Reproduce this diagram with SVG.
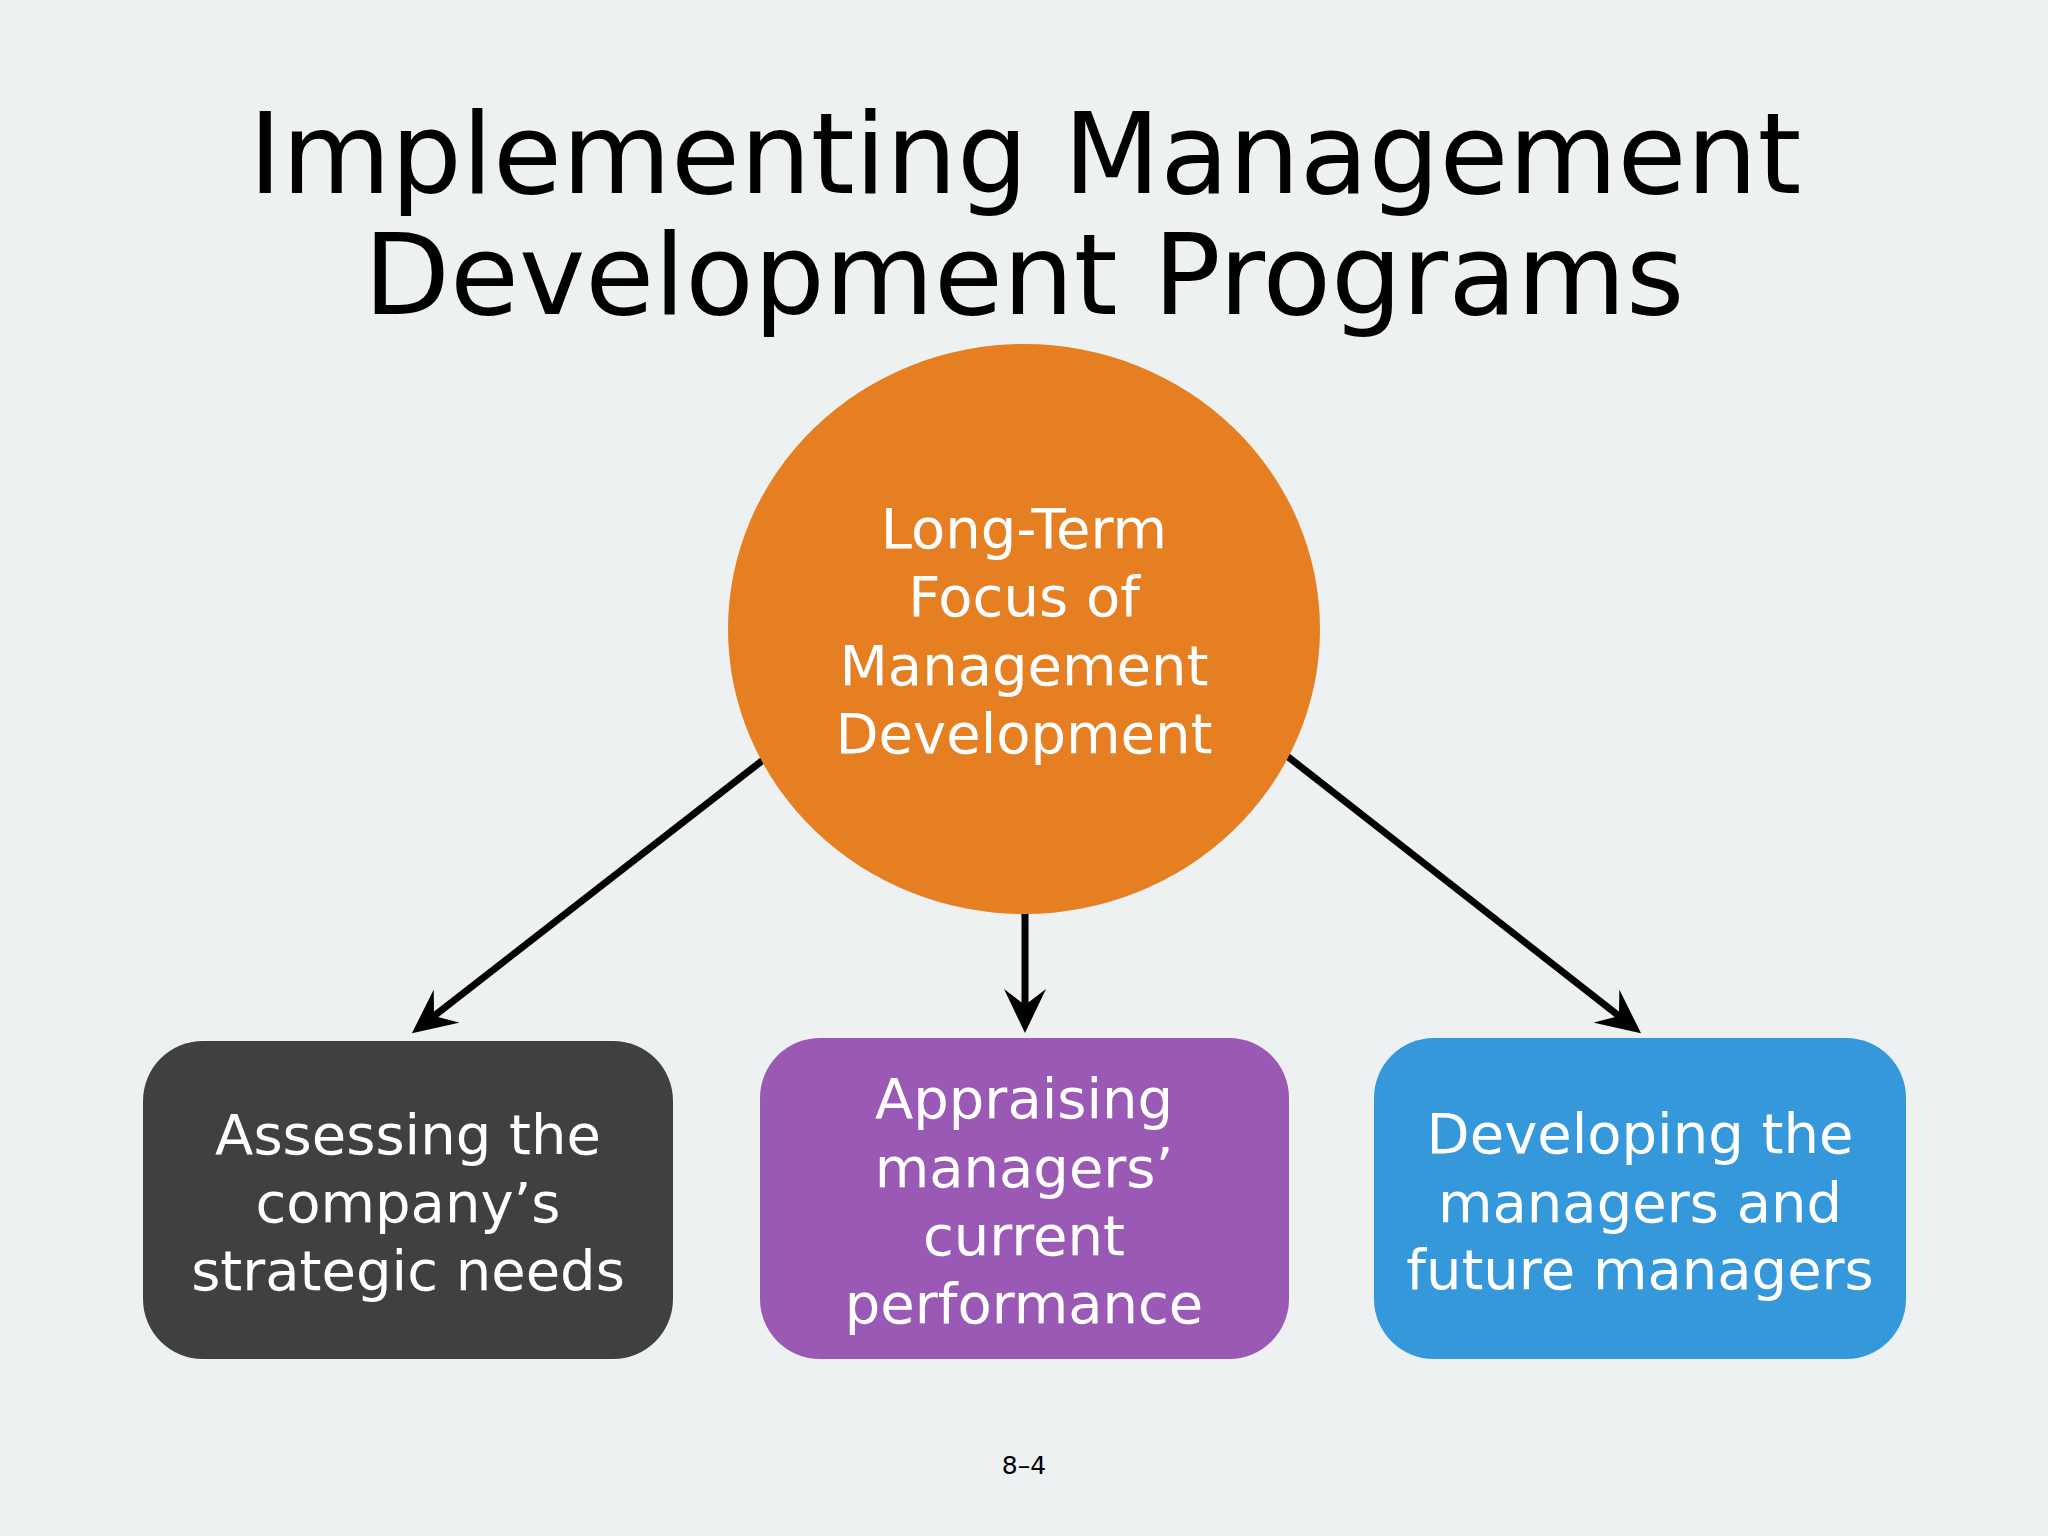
<svg xmlns="http://www.w3.org/2000/svg" width="2048" height="1536" viewBox="0 0 2048 1536">
  <style>
    .title { font-family: "DejaVu Sans", "Liberation Sans", sans-serif; font-size: 112px; fill: #000000; text-anchor: middle; }
    .label { font-family: "DejaVu Sans", "Liberation Sans", sans-serif; font-size: 56px; fill: #FFFFFF; text-anchor: middle; }
    .footer { font-family: "DejaVu Sans", "Liberation Sans", sans-serif; font-size: 25px; fill: #000000; text-anchor: middle; }
    .conn { stroke: #000000; stroke-width: 7; fill: none; }
  </style>
  <defs>
    <marker id="stealth" viewBox="0 0 44 42" refX="16" refY="21" markerWidth="44" markerHeight="42" markerUnits="userSpaceOnUse" orient="auto">
      <path d="M44,21 L0,0 L16,21 L0,42 Z" fill="#000000"/>
    </marker>
  </defs>
  <rect x="0" y="0" width="2048" height="1536" fill="#EDF1F1"/>

  <g id="title">
    <text class="title" x="1025" y="193">Implementing Management</text>
    <text class="title" x="1024" y="314">Development Programs</text>
  </g>

  <g id="connectors">
    <line class="conn" x1="763" y1="760" x2="434" y2="1016" marker-end="url(#stealth)"/>
    <line class="conn" x1="1025" y1="905" x2="1025" y2="1005" marker-end="url(#stealth)"/>
    <line class="conn" x1="1287" y1="756" x2="1619" y2="1016" marker-end="url(#stealth)"/>
  </g>

  <g id="node-center">
    <ellipse cx="1024" cy="629" rx="296" ry="285" fill="#E67E22"/>
    <text class="label" x="1024" y="548">Long-Term</text>
    <text class="label" x="1024" y="616">Focus of</text>
    <text class="label" x="1024" y="685">Management</text>
    <text class="label" x="1024" y="753">Development</text>
  </g>

  <g id="node-assessing">
    <rect x="143" y="1041" width="530" height="318" rx="60" ry="60" fill="#404040"/>
    <text class="label" x="408" y="1154">Assessing the</text>
    <text class="label" x="408" y="1222">company’s</text>
    <text class="label" x="408" y="1290">strategic needs</text>
  </g>

  <g id="node-appraising">
    <rect x="760" y="1038" width="529" height="321" rx="60" ry="60" fill="#9B59B6"/>
    <text class="label" x="1024" y="1118">Appraising</text>
    <text class="label" x="1024" y="1187">managers’</text>
    <text class="label" x="1024" y="1255">current</text>
    <text class="label" x="1024" y="1323">performance</text>
  </g>

  <g id="node-developing">
    <rect x="1374" y="1038" width="532" height="321" rx="60" ry="60" fill="#3498DB"/>
    <text class="label" x="1640" y="1153">Developing the</text>
    <text class="label" x="1640" y="1222">managers and</text>
    <text class="label" x="1640" y="1289">future managers</text>
  </g>

  <g id="footer">
    <text class="footer" x="1024" y="1474">8–4</text>
  </g>
</svg>
